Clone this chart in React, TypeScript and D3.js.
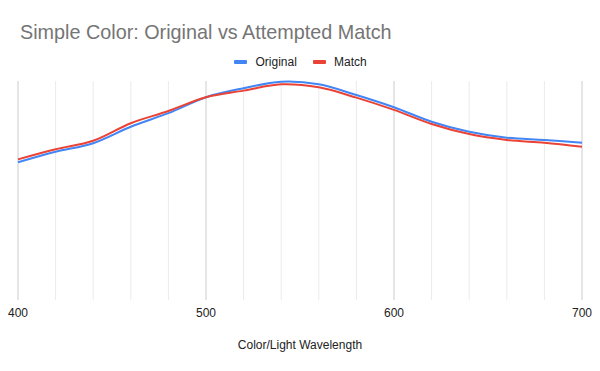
import React from "react";
import * as d3 from "d3";

const wavelengths = [400, 420, 440, 460, 480, 500, 520, 540, 560, 580, 600, 620, 640, 660, 680, 700];
const original = [62.9, 67.7, 71.6, 79.1, 85.3, 92.6, 96.7, 99.7, 98.5, 93.6, 88.0, 81.4, 76.8, 74.1, 73.1, 71.8];
const match = [64.2, 68.8, 72.7, 80.7, 86.3, 92.6, 95.6, 98.5, 97.1, 92.4, 86.8, 80.4, 75.8, 73.1, 71.8, 70.0];
const majorTicks = [400, 500, 600, 700];
const minorTicks = [420, 440, 460, 480, 520, 540, 560, 580, 620, 640, 660, 680];
const seriesNames = ["Original", "Match"];
const title = "Simple Color: Original vs Attempted Match";
const xTitle = "Color/Light Wavelength";

const W = 600, H = 371;
const left = 18, right = 582, top = 81, bottom = 300;
const colors = ["#4285F4", "#EA4335"];
const font = "'Liberation Sans', Arial, sans-serif";

export default function App() {
  const x = d3.scaleLinear().domain([400, 700]).range([left, right]);
  const y = d3.scaleLinear().domain([0, 100]).range([bottom, top]);
  const line = d3
    .line<number>()
    .x((_, i) => x(wavelengths[i]))
    .y((d) => y(d))
    .curve(d3.curveCatmullRom.alpha(0.5));
  const series = [original, match];
  return (
    <svg width={W} height={H} style={{ position: "absolute", left: 0, top: 0, background: "#fff" }}>
      <rect width={W} height={H} fill="#fff" />
      <text x={20} y={38.5} fontFamily={font} fontSize={19.8} fill="#757575">{title}</text>
      {/* legend */}
      <g fontFamily={font} fontSize={12} fill="#222">
        <rect x={234} y={60} width={13} height={4} rx={1} fill={colors[0]} />
        <text x={255.5} y={66}>{seriesNames[0]}</text>
        <rect x={313} y={60} width={13} height={4} rx={1} fill={colors[1]} />
        <text x={334} y={66}>{seriesNames[1]}</text>
      </g>
      {minorTicks.map((t) => (
        <line key={"m" + t} x1={x(t)} x2={x(t)} y1={top} y2={bottom} stroke="#ebebeb" strokeWidth={1} />
      ))}
      {majorTicks.map((t) => (
        <line key={"M" + t} x1={x(t)} x2={x(t)} y1={top} y2={bottom} stroke="#cccccc" strokeWidth={1} />
      ))}
      {series.map((s, i) => (
        <path key={i} d={line(s) || ""} fill="none" stroke={colors[i]} strokeWidth={2} />
      ))}
      {majorTicks.map((t) => (
        <text key={"l" + t} x={x(t)} y={317} textAnchor="middle" fontFamily={font} fontSize={12} fill="#222">{t}</text>
      ))}
      <text x={(left + right) / 2} y={349} textAnchor="middle" fontFamily={font} fontSize={12} fill="#222">{xTitle}</text>
    </svg>
  );
}
